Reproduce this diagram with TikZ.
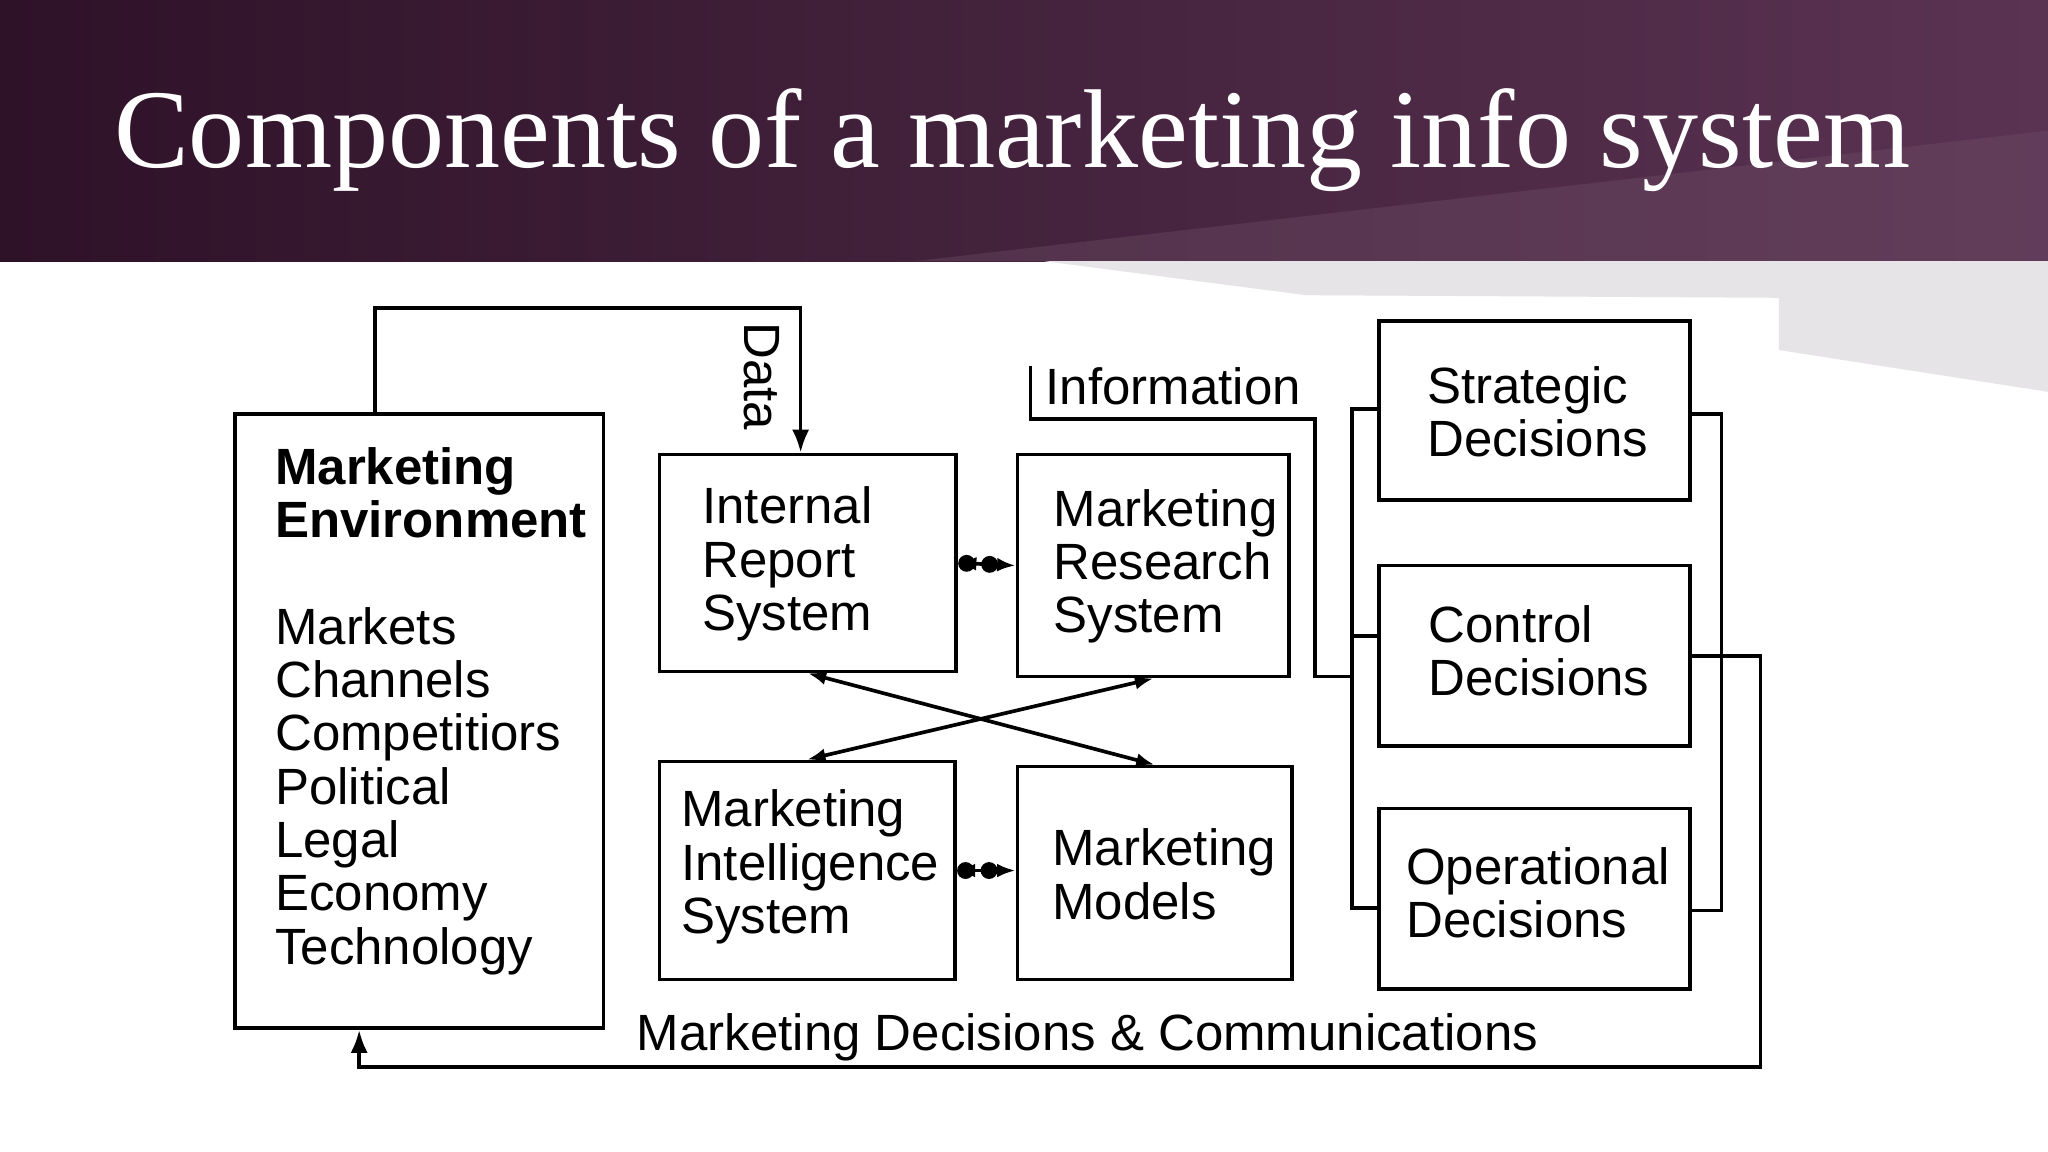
\documentclass[tikz,border=0pt]{standalone}
\usepackage{fontspec}
\setmainfont{Liberation Serif}
\newfontfamily\diagfont{Liberation Sans}
\usetikzlibrary{arrows.meta,calc}
\definecolor{bandA}{HTML}{2E1228}
\definecolor{bandB}{HTML}{5A3352}
\definecolor{greyp}{HTML}{E6E4E6}
\begin{document}
\begin{tikzpicture}[x={(0.01cm,0)},y={(0,-0.01cm)},
  box/.style={draw,thick,rectangle,inner sep=0pt},
  txt/.style={font=\diagfont\fontsize{11.1}{11.6}\selectfont,align=left,inner sep=0pt,anchor=north west},
  ln/.style={thick},
  dl/.style={thick,{Latex[length=4pt]}-{Latex[length=4pt]}},
  dot/.style={circle,fill,inner sep=1.3pt}]
\useasboundingbox (0,0) rectangle (1568,882);
\fill[white] (0,0) rectangle (1568,882);
\shade[left color=bandA,right color=bandB] (0,0) rectangle (1568,200);
\fill[bandB!85!white,opacity=0.35] (700,200) -- (1568,100) -- (1568,200) -- cycle;
\fill[greyp] (800,200) -- (1568,200) -- (1568,300) -- (1362,268) -- (1362,228) -- (1000,226) -- cycle;
\node[text=white,font=\fontsize{24.4}{30}\selectfont,anchor=base] (title) at (775,128) {Components of a marketing info system};
% boxes
\node[box,minimum width=2.82cm,minimum height=4.70cm] (env) at (321,552) {};
\node[box,minimum width=2.27cm,minimum height=1.66cm] (irs) at (618.5,431) {};
\node[box,minimum width=2.08cm,minimum height=1.70cm] (mrs) at (883,433) {};
\node[box,minimum width=2.26cm,minimum height=1.67cm] (mis) at (618,666.5) {};
\node[box,minimum width=2.10cm,minimum height=1.63cm] (mm) at (884,668.5) {};
\node[box,minimum width=2.38cm,minimum height=1.37cm] (sd) at (1175,314.5) {};
\node[box,minimum width=2.38cm,minimum height=1.38cm] (cd) at (1175,502) {};
\node[box,minimum width=2.38cm,minimum height=1.38cm] (od) at (1175,688) {};
% texts
\node[txt] (envt) at (210,342) {\textbf{Marketing}\\\textbf{Environment}\\[11.6pt]Markets\\Channels\\Competitiors\\Political\\Legal\\Economy\\Technology};
\node[txt] (irst) at (537,372) {Internal\\Report\\System};
\node[txt] (mrst) at (806,374) {Marketing\\Research\\System};
\node[txt] (mist) at (521,604) {Marketing\\Intelligence\\System};
\node[txt] (mmt) at (805,634) {Marketing\\Models};
\node[txt] (sdt) at (1092,280) {Strategic\\Decisions};
\node[txt] (cdt) at (1093,463) {Control\\Decisions};
\node[txt] (odt) at (1076,648) {Operational\\Decisions};
\node[txt,anchor=west] (info) at (800,296) {Information};
\node[txt,anchor=west] (mdc) at (487,794) {Marketing Decisions \& Communications};
\node[txt,anchor=center,rotate=-90] (data) at (583,288) {Data};
% data line
\draw[ln,-{Latex[length=5pt]}] (287,0 |- env.north) -- (287,236) -- (613,236) -- (613,0 |- irs.north);
% links
\draw[dl] (irs.east) -- (mrs.west) node[dot,pos=0.15]{} node[dot,pos=0.55]{};
\draw[dl] (mis.east) -- (mis.east -| mm.west) node[dot,pos=0.15]{} node[dot,pos=0.55]{};
\draw[dl] (irs.south) -- (mm.north);
\draw[dl] (mis.north) -- (mrs.south);
% information
\draw[ln] (789,280) -- (789,321) -- (1007,321) -- (1007,518) -- (1035,518);
\draw[ln] (sd.west |- 0,313) -- (1035,313) -- (1035,695) -- (od.west |- 0,695);
\draw[ln] (1035,487) -- (cd.west |- 0,487);
\draw[ln] (sd.east |- 0,317) -- (1318,317) -- (1318,697) -- (od.east |- 0,697);
\draw[ln,-{Latex[length=5pt]}] (cd.east |- 0,502) -- (1348,502) -- (1348,817) -- (275,817) -- (275,0 |- env.south);
\end{tikzpicture}
\end{document}
